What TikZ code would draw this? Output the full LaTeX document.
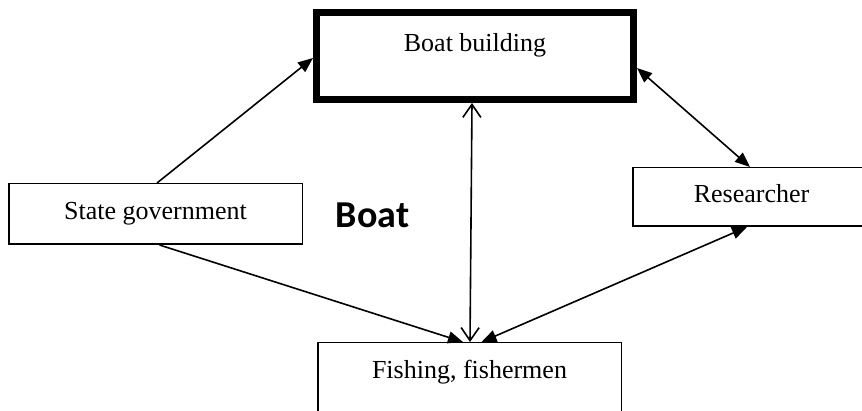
\documentclass[tikz,border=0pt]{standalone}
\usepackage{fontspec}
\setmainfont{Liberation Serif}
\newfontfamily\boatfont{Carlito}
\usetikzlibrary{arrows.meta}
\begin{document}
\begin{tikzpicture}[x=1pt,y=-1pt,
  box/.style={draw=black, line width=1.5pt, fill=white, inner xsep=0pt, inner ysep=0pt,
    font=\fontsize{26}{30}\selectfont, anchor=center},
  conn/.style={line width=1.6pt},
  tip/.tip={Triangle[length=15pt,width=12pt]},
  fa/.style={tip-tip},
  oa/.style={{Straight Barb[length=13pt,width=18pt]}-{Straight Barb[length=13pt,width=18pt]}}
]
\useasboundingbox (0,0) rectangle (862,411);
\clip (0,0) rectangle (862,411);
% Boat building
\node[box, line width=7pt, line join=miter, minimum width=317pt, text height=39.5pt, text depth=47.5pt] (bb) at (475,56) {Boat building};
% State government
\node[box, minimum width=293.5pt, text height=36.25pt, text depth=24.25pt] (sg) at (155.5,214) {State government};
% Researcher
\node[box, minimum width=237pt, text height=35.25pt, text depth=23.25pt] (rs) at (751.5,197) {Researcher};
% Fishing
\node[box, minimum width=303.5pt, text height=35.25pt, text depth=50pt, anchor=north] (ff) at (469.5,342) {Fishing, fishermen};
% label Boat
\node[font=\boatfont\bfseries\fontsize{38}{42}\selectfont, anchor=base, inner sep=0pt] (boat) at (372.5,228) {Boat};
% connectors
\draw[conn,-tip] ([xshift=1.5pt]sg.north) -- ([yshift=-2pt]bb.west);
\draw[conn,-tip] ([xshift=4pt]sg.south) -- ([xshift=-6.5pt]ff.north);
\draw[conn,oa] ([xshift=-3pt]bb.south) -- ([xshift=0.5pt]ff.north);
\draw[conn,fa] ([xshift=-4.5pt]rs.south) -- ([xshift=12pt]ff.north);
\draw[conn,fa] ([yshift=-12pt]bb.east) -- ([xshift=-1.5pt]rs.north);
\end{tikzpicture}
\end{document}
